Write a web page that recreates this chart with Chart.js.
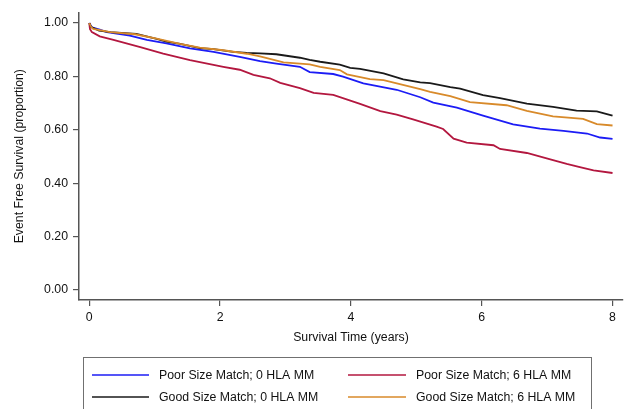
<!DOCTYPE html>
<html>
<head>
<meta charset="utf-8">
<script src="https://cdn.jsdelivr.net/npm/chart.js@4.4.1/dist/chart.umd.min.js"></script>
<style>
html,body{margin:0;padding:0;background:#fff;}
#wrap{width:630px;height:409px;position:relative;}
</style>
</head>
<body>
<div id="wrap"><canvas id="c" width="630" height="409"></canvas></div>
<script>
// Series: Kaplan-Meier event-free survival estimates
const seriesLabels = [
  "Poor Size Match; 0 HLA MM",
  "Poor Size Match; 6 HLA MM",
  "Good Size Match; 0 HLA MM",
  "Good Size Match; 6 HLA MM"
];

const poor0Time = [0, 0.04, 0.16, 0.27, 0.62, 0.88, 1.18, 1.54, 1.90, 2.30, 2.61, 2.86, 3.22, 3.37, 3.73, 3.88, 4.19, 4.70, 5.06, 5.26, 5.62, 6.02, 6.48, 6.89, 7.25, 7.61, 7.81, 8.0];
const poor0Surv = [1.0, 0.984, 0.975, 0.966, 0.953, 0.937, 0.924, 0.905, 0.892, 0.873, 0.857, 0.848, 0.836, 0.816, 0.809, 0.799, 0.774, 0.750, 0.722, 0.702, 0.683, 0.653, 0.620, 0.604, 0.596, 0.586, 0.571, 0.566];

const poor6Time = [0, 0.01, 0.04, 0.16, 0.37, 0.78, 1.13, 1.54, 2.05, 2.30, 2.51, 2.76, 2.92, 3.22, 3.43, 3.73, 4.14, 4.45, 4.70, 4.95, 5.31, 5.41, 5.57, 5.77, 6.18, 6.28, 6.69, 7.09, 7.30, 7.50, 7.71, 8.0];
const poor6Surv = [1.0, 0.978, 0.966, 0.950, 0.937, 0.910, 0.885, 0.861, 0.836, 0.825, 0.806, 0.793, 0.776, 0.756, 0.738, 0.731, 0.697, 0.670, 0.657, 0.639, 0.612, 0.603, 0.567, 0.552, 0.542, 0.528, 0.513, 0.486, 0.472, 0.460, 0.448, 0.438];

const good0Time = [0, 0.03, 0.15, 0.32, 0.72, 1.03, 1.18, 1.39, 1.69, 1.90, 2.20, 2.41, 2.61, 2.86, 3.22, 3.37, 3.53, 3.83, 3.99, 4.14, 4.50, 4.80, 5.06, 5.21, 5.52, 5.67, 6.02, 6.28, 6.69, 7.09, 7.45, 7.76, 7.90, 8.0];
const good0Surv = [1.0, 0.985, 0.972, 0.966, 0.959, 0.941, 0.930, 0.922, 0.906, 0.902, 0.892, 0.888, 0.886, 0.883, 0.870, 0.862, 0.855, 0.844, 0.832, 0.828, 0.811, 0.789, 0.778, 0.775, 0.760, 0.754, 0.730, 0.719, 0.698, 0.686, 0.672, 0.669, 0.660, 0.653];

const good6Time = [0, 0.03, 0.06, 0.32, 0.70, 1.03, 1.39, 1.69, 2.05, 2.41, 2.61, 2.97, 3.37, 3.53, 3.83, 3.94, 4.29, 4.50, 5.06, 5.21, 5.52, 5.82, 6.38, 6.69, 7.09, 7.55, 7.76, 8.0];
const good6Surv = [1.0, 0.985, 0.978, 0.966, 0.958, 0.942, 0.922, 0.908, 0.898, 0.885, 0.875, 0.853, 0.845, 0.836, 0.824, 0.808, 0.790, 0.786, 0.752, 0.742, 0.726, 0.704, 0.692, 0.671, 0.650, 0.641, 0.621, 0.616];

const xTicks = [0, 2, 4, 6, 8];
const yTicks = [0, 0.2, 0.4, 0.6, 0.8, 1.0];

const colors = ["#1c1cf5", "#b3173f", "#1a1a1a", "#d88a2a"];

function pts(t, s) { return t.map((v, i) => ({x: v, y: s[i]})); }

const seriesData = [pts(poor0Time, poor0Surv), pts(poor6Time, poor6Surv), pts(good0Time, good0Surv), pts(good6Time, good6Surv)];
const drawOrder = [3, 2, 1, 0];

const FONT = "'Liberation Sans', Arial, Helvetica, sans-serif";
const FS = 12.3;
const AXIS = "#555555";

const legendPlugin = {
  id: 'boxLegend',
  afterDraw(chart) {
    const ctx = chart.ctx;
    ctx.save();
    ctx.strokeStyle = "#707070";
    ctx.lineWidth = 1;
    ctx.strokeRect(83.5, 357.5, 508, 70);
    const cols = [{lx: 92, lw: 57, tx: 159}, {lx: 348, lw: 58, tx: 416}];
    const rows = [375, 397];
    const layout = [[0, 0, 0], [1, 0, 1], [2, 1, 0], [3, 1, 1]]; // dataset, row, col
    ctx.font = FS + "px " + FONT;
    ctx.textBaseline = "middle";
    ctx.fillStyle = "#111";
    layout.forEach(([d, r, c]) => {
      const ds = chart.data.datasets[d];
      const col = cols[c], y = rows[r];
      ctx.strokeStyle = ds.borderColor;
      ctx.lineWidth = 1.6;
      ctx.beginPath();
      ctx.moveTo(col.lx, y);
      ctx.lineTo(col.lx + col.lw, y);
      ctx.stroke();
      ctx.fillText(ds.label, col.tx, y + 0.5);
    });
    ctx.restore();
  }
};

new Chart(document.getElementById('c'), {
  type: 'line',
  data: {
    datasets: seriesLabels.map((lab, i) => ({
      label: lab,
      data: seriesData[i],
      borderColor: colors[i],
      backgroundColor: colors[i],
      borderWidth: 1.8,
      pointRadius: 0,
      tension: 0,
      fill: false,
      order: drawOrder[i]
    }))
  },
  options: {
    responsive: false,
    animation: false,
    devicePixelRatio: 1,
    layout: {padding: {left: 0, right: 7, top: 8, bottom: 59}},
    plugins: {legend: {display: false}, tooltip: {enabled: false}},
    scales: {
      x: {
        type: 'linear',
        min: -0.157,
        max: 8.16,
        afterBuildTicks: s => { s.ticks = xTicks.map(v => ({value: v})); },
        afterFit: s => { s.height = 50; },
        border: {display: true, color: AXIS, width: 1.5},
        grid: {display: true, drawOnChartArea: false, drawTicks: true, tickLength: 6, color: AXIS, lineWidth: 1.2},
        ticks: {padding: 4, color: "#111", font: {family: FONT, size: FS}, callback: v => String(v), maxRotation: 0},
        title: {display: true, text: "Survival Time (years)", color: "#111", font: {family: FONT, size: FS}, padding: {top: 0, bottom: 5}}
      },
      y: {
        type: 'linear',
        min: -0.038,
        max: 1.04,
        afterBuildTicks: s => { s.ticks = yTicks.map(v => ({value: v})); },
        afterFit: s => { s.width = 79; },
        border: {display: true, color: AXIS, width: 1.5},
        grid: {display: true, drawOnChartArea: false, drawTicks: true, tickLength: 6, color: AXIS, lineWidth: 1.2},
        ticks: {padding: 5, color: "#111", font: {family: FONT, size: FS}, callback: v => Number(v).toFixed(2)},
        title: {display: true, text: "Event Free Survival (proportion)", color: "#111", font: {family: FONT, size: FS}, padding: {top: 12, bottom: 0}}
      }
    }
  },
  plugins: [legendPlugin]
});
</script>
</body>
</html>
